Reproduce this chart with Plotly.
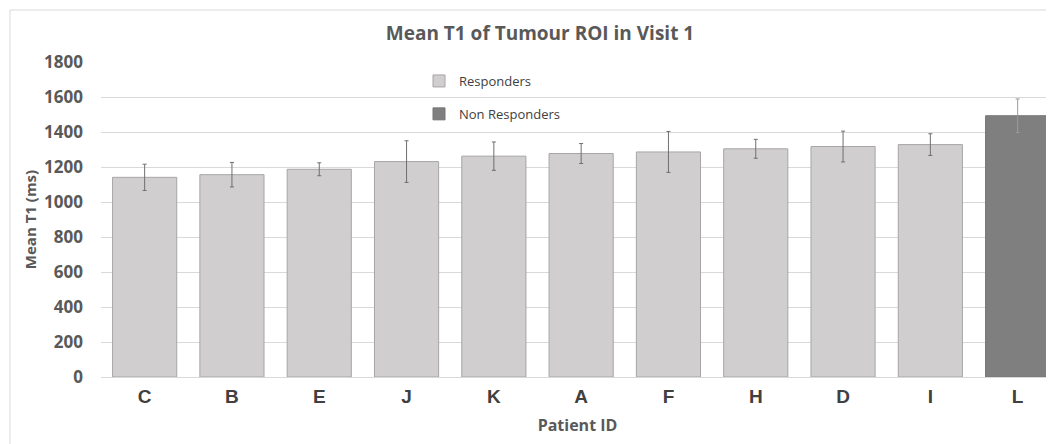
import plotly.graph_objects as go

patients = ["C", "B", "E", "J", "K", "A", "F", "H", "D", "I", "L"]
mean_t1 = [1141, 1156, 1187, 1231, 1262, 1277, 1286, 1304, 1317, 1328, 1493]
err_t1 = [75, 70, 37, 119, 81, 57, 117, 54, 88, 62, 96]
responder = [True] * 10 + [False]

resp_x = [p for p, r in zip(patients, responder) if r]
resp_y = [v for v, r in zip(mean_t1, responder) if r]
resp_e = [e for e, r in zip(err_t1, responder) if r]
non_x = [p for p, r in zip(patients, responder) if not r]
non_y = [v for v, r in zip(mean_t1, responder) if not r]
non_e = [e for e, r in zip(err_t1, responder) if not r]

y_ticks = [0, 200, 400, 600, 800, 1000, 1200, 1400, 1600, 1800]

# page body has an 8px margin; work in screen coordinates and convert
OFF = 8
W, H = 1054 - OFF, 444 - OFF
L = 101 - OFF
T = 62 - OFF
R = 0
B = H - (377 - OFF)
pw = W - L - R
ph = H - T - B

def px_x(sx):
    return (sx - OFF - L) / pw

def px_y(sy):
    return (H - B - (sy - OFF)) / ph

fig = go.Figure()
fig.add_trace(go.Bar(
    x=resp_x, y=resp_y, name="Responders", legendgroup="r",
    marker=dict(color="#D0CECE", line=dict(color="#A6A6A6", width=1)),
    width=0.735,
    error_y=dict(type="data", array=resp_e, visible=True, color="#6F6F6F", thickness=1, width=2),
))
fig.add_trace(go.Bar(
    x=non_x, y=non_y, name="Non Responders", legendgroup="n",
    marker=dict(color="#7F7F7F", line=dict(color="#767676", width=1)),
    width=0.735,
    error_y=dict(type="data", array=non_e, visible=True, color="#9A9A9A", thickness=1, width=2),
))

fig.update_layout(
    width=W, height=H,
    margin=dict(l=L, r=R, t=T, b=B),
    paper_bgcolor="white", plot_bgcolor="white",
    barmode="overlay",
    showlegend=True,
    legend=dict(
        x=px_x(419), y=px_y(66), xanchor="left", yanchor="top",
        font=dict(family="Open Sans", size=13, color="#404040"),
        tracegroupgap=13, bgcolor="rgba(0,0,0,0)",
    ),
    title=dict(
        text="Mean T1 of Tumour ROI in Visit 1",
        x=(540 - OFF) / W, xanchor="center", y=1 - (33 - OFF) / H, yanchor="middle",
        font=dict(family="Open Sans", size=19, color="#595959", weight="bold"),
    ),
    xaxis=dict(
        type="category", categoryorder="array", categoryarray=patients,
        range=[-0.5, -0.5 + pw / 87.3],
        showgrid=False, showline=True, linecolor="#D9D9D9", linewidth=1,
        ticks="", tickfont=dict(family="Liberation Sans", size=19, color="#404040", weight="bold"),
        ticklabelstandoff=2,
        title=dict(text="Patient ID", standoff=14,
                   font=dict(family="Open Sans", size=16, color="#595959", weight="bold")),
    ),
    yaxis=dict(
        range=[0, 1800], tickvals=y_ticks,
        showgrid=True, gridcolor="#D9D9D9", gridwidth=1,
        zeroline=False, showline=False, ticks="",
        tickfont=dict(family="Open Sans", size=17, color="#595959", weight="bold"),
        ticklabelstandoff=17,
        title=dict(text="Mean T1 (ms)", standoff=3,
                   font=dict(family="Open Sans", size=15, color="#595959", weight="bold")),
    ),
    shapes=[dict(
        type="rect", xref="paper", yref="paper",
        x0=px_x(10), x1=px_x(1080), y0=px_y(470), y1=px_y(10),
        line=dict(color="#D9D9D9", width=1), fillcolor="rgba(0,0,0,0)", layer="below",
    )],
)

fig.write_html("out.html")
